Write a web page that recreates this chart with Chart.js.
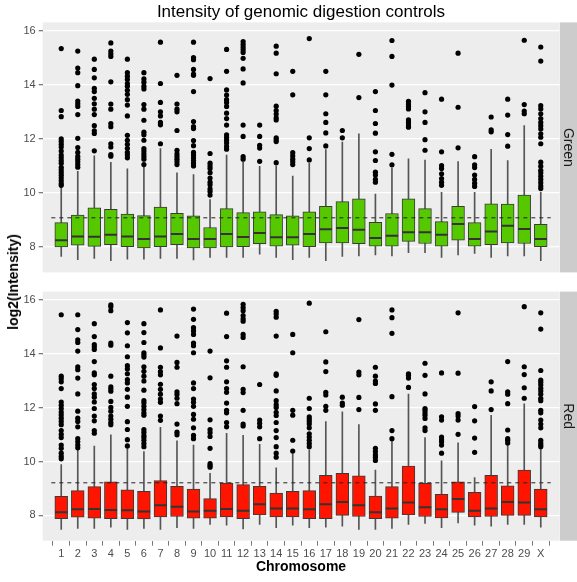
<!DOCTYPE html>
<html>
<head>
<meta charset="utf-8">
<title>Intensity of genomic digestion controls</title>
<script src="https://cdn.jsdelivr.net/npm/chart.js@4/dist/chart.umd.min.js"></script>
<style>
  html, body { margin: 0; padding: 0; background: #fff; }
  #wrap { position: relative; width: 577px; height: 582px; overflow: hidden; }
  #wrap canvas { position: absolute; left: 0; }
  #ytitle {
    position: absolute; left: 13px; top: 282px;
    transform: translate(-50%, -50%) rotate(-90deg);
    font: bold 14px 'Liberation Sans', Arial, sans-serif;
    color: #000; white-space: nowrap;
  }
</style>
</head>
<body>
<div id="wrap">
  <canvas id="greenPanel" width="577" height="282" style="top:0"></canvas>
  <canvas id="redPanel" width="577" height="300" style="top:282px"></canvas>
  <div id="ytitle">log2(Intensity)</div>
</div>
<script>
// ---- data ----------------------------------------------------------------
const chromosomes = ['1','2','3','4','5','6','7','8','9','10','11','12','13','14','15',
  '16','17','18','19','20','21','22','23','24','25','26','27','28','29','X'];
const yTicks = [8, 10, 12, 14, 16];
const yMin = 7.06, yMax = 16.31;

// Green channel: whisker ends, quartiles, medians, outliers
const greenLow = [7.65,7.53,7.58,7.49,7.55,7.55,7.58,7.58,7.52,7.61,7.61,7.61,7.73,7.61,7.53,
  7.61,7.49,7.65,7.67,7.71,7.67,7.79,7.79,7.61,7.71,7.76,7.61,7.67,7.67,7.49];
const greenQ1 = [8.00,8.07,8.02,8.09,8.01,7.97,8.01,8.09,7.97,7.97,8.00,8.01,8.12,8.03,8.07,
  8.01,8.15,8.15,8.12,8.03,8.03,8.21,8.13,8.03,8.25,8.03,8.09,8.15,8.13,8.01];
const greenMedian = [8.25,8.39,8.38,8.45,8.39,8.30,8.39,8.48,8.30,8.30,8.48,8.37,8.52,8.36,8.36,
  8.48,8.66,8.70,8.64,8.33,8.42,8.55,8.55,8.45,8.85,8.30,8.57,8.79,8.67,8.30];
const greenQ3 = [8.90,9.18,9.45,9.39,9.22,9.16,9.48,9.25,9.15,8.72,9.42,9.27,9.30,9.20,9.15,
  9.30,9.50,9.68,9.78,8.91,9.24,9.78,9.42,8.94,9.50,8.90,9.60,9.59,9.92,8.84];
const greenHigh = [10.22,10.80,11.37,11.13,10.89,11.02,11.64,10.74,10.68,9.75,11.40,11.13,10.98,11.00,10.62,
  11.10,11.60,11.88,12.19,9.96,10.92,11.26,11.22,10.02,11.16,10.02,11.61,11.20,12.49,10.02];
const greenOutliers = [
  [15.34,13.05,12.82,12.00,11.90,11.80,11.70,11.55,11.40,11.30,11.20,11.10,10.95,10.85,10.75,10.65,10.55,10.45,10.35,10.28],
  [15.25,14.62,14.45,13.97,13.40,13.30,13.20,12.90,12.02,11.68,11.50,11.35,11.25,11.15,11.05,10.95],
  [14.95,14.57,14.26,13.87,13.75,13.50,13.30,13.10,12.90,12.49,12.30,12.20,11.56],
  [15.55,15.25,15.15,15.05,14.11,13.29,13.10,12.57,12.45,11.82,11.70,11.42,11.36],
  [14.95,14.45,14.32,14.20,14.05,13.95,13.80,13.65,13.45,13.25,12.85,12.13,11.95,11.80,11.65,11.50,11.40,11.30],
  [14.45,14.22,14.10,13.95,13.85,13.27,13.10,12.69,12.25,12.15,11.95,11.64,11.55,11.45,11.35,11.25,11.05],
  [15.58,14.05,13.35,13.00,12.85,12.61,12.52,11.82],
  [14.35,13.29,13.10,13.00,12.31,11.58,11.45,11.35,11.25,11.15,11.05],
  [15.58,15.01,14.93,14.57,14.40,14.35,13.75,12.64,12.45,12.38,11.94,11.75,11.50,11.40,11.30,11.20,11.10,11.00],
  [14.23,11.46,11.10,11.00,10.90,10.75,10.55,10.40,10.30,10.15,10.05,9.92],
  [15.31,14.50,13.81,13.62,13.45,13.35,13.20,12.95,12.75,12.51,12.15,12.05,11.95,11.85,11.72,11.62],
  [15.60,15.50,15.40,15.30,15.20,14.98,14.59,14.07,12.51,12.09,11.34,11.25],
  [12.51,12.09,11.76,11.66,11.17],
  [15.43,15.17,14.41,13.21,13.05,12.92,12.78,12.70,12.04,11.97,11.90,11.12],
  [14.50,13.63,11.49,11.37,11.25,11.15,11.05],
  [15.71,12.04,11.64,11.22],
  [14.50,13.63,12.93,12.61,12.22,11.74],
  [12.31,12.04],
  [15.13,13.53],
  [13.75,13.05,12.57,12.21,11.52,11.20,10.77,10.66,10.50,10.40],
  [15.64,15.05,13.99,11.43,11.04],
  [13.39,13.29,13.20,13.11,12.70,12.61,12.51,12.43],
  [13.71,13.00,12.61,11.97,11.58],
  [13.47,11.52,11.01,10.90,10.71,10.53,10.40,10.28],
  [15.17,13.17,11.67],
  [11.34,11.04,10.94,10.66,10.50,10.36,10.24],
  [12.81,12.33,12.26],
  [13.47,12.88,12.16,11.73],
  [15.65,13.27,13.03,12.93],
  [15.40,14.88,13.23,13.11,12.93,12.75,12.61,12.49,12.37,12.19,12.06,11.82,11.14,10.99,10.84,10.74,10.62,10.50,10.38,10.26,10.16]
];
const greenReference = 9.08;

// Red channel
const redLow = [7.48,7.52,7.52,7.56,7.48,7.52,7.48,7.54,7.52,7.66,7.64,7.50,7.66,7.54,7.64,
  7.54,7.56,7.60,7.48,7.48,7.52,7.66,7.70,7.54,7.72,7.64,7.60,7.66,7.66,7.56];
const redQ1 = [7.88,7.93,7.90,7.88,7.88,7.87,7.94,7.96,7.90,7.90,7.94,7.88,8.02,7.94,7.94,
  7.88,7.88,8.00,7.96,7.88,7.90,8.02,7.96,7.91,8.11,7.94,7.96,8.00,8.00,7.94];
const redMedian = [8.12,8.23,8.24,8.20,8.19,8.14,8.38,8.32,8.14,8.17,8.24,8.17,8.41,8.26,8.26,
  8.23,8.41,8.50,8.38,8.12,8.26,8.48,8.30,8.23,8.61,8.17,8.26,8.50,8.48,8.23];
const redQ3 = [8.71,8.92,9.07,9.25,8.95,8.89,9.29,9.08,8.98,8.62,9.20,9.14,9.08,8.83,8.89,
  8.92,9.49,9.56,9.47,8.72,9.07,9.83,9.19,8.78,9.25,8.86,9.49,9.10,9.68,8.98];
const redHigh = [9.89,10.43,10.57,10.99,10.49,10.37,11.27,10.77,10.61,9.56,11.05,10.97,10.64,9.77,10.30,
  10.43,11.48,11.85,11.37,9.68,10.75,12.50,10.89,10.03,10.69,9.40,11.72,10.64,12.14,10.57];
const redOutliers = [
  [15.45,13.17,13.07,12.96,12.71,12.21,12.09,11.97,11.84,11.73,11.61,11.49,11.37,11.15,11.01,10.89,10.61,10.49,10.31,10.19,10.10],
  [15.45,14.90,14.52,14.42,14.10,13.52,13.41,13.10,12.51,11.87,11.61,11.49,11.29,10.85,10.73,10.61,10.51],
  [15.12,14.64,14.34,14.25,14.16,13.71,13.29,13.22,12.86,12.71,12.51,12.39,12.21,11.97,11.69,11.51,11.15,11.05],
  [15.82,15.75,15.60,14.40,14.32,13.17,12.77,12.69,12.61,12.23,12.01,11.87,11.69,11.57,11.45,11.37],
  [15.16,14.78,14.30,13.89,13.56,13.44,13.26,13.04,12.92,12.68,12.39,12.05,11.48,11.19,10.81,10.58],
  [15.12,14.79,14.42,14.04,13.96,13.88,13.52,13.35,13.17,12.99,12.65,12.26,12.17,12.05,11.93,11.81,11.72,11.19,11.09,10.97,10.89,10.79,10.67,10.55],
  [15.63,14.22,13.50,13.34,13.22,12.87,12.68,12.50,12.32,12.20,11.69,11.53],
  [14.66,13.68,13.50,12.59,12.49,12.35,12.15,11.39,11.09,10.99],
  [15.66,15.28,14.97,14.85,14.72,14.40,14.30,14.04,12.92,12.71,12.32,12.20,12.05,11.75,11.57,11.25,10.97,10.85],
  [14.10,13.11,11.55,11.19,11.07,10.93,10.49,9.92,9.85,9.79],
  [15.51,14.64,13.74,13.50,12.96,12.71,12.57,12.17,11.90,11.81,11.45,11.29],
  [15.84,15.72,15.60,15.42,15.30,15.21,14.72,14.61,13.52,12.68,12.56,11.90,11.39,11.32],
  [12.86,11.54,11.42,11.29,10.85],
  [15.58,15.48,15.36,14.66,13.26,13.20,12.62,12.26,12.11,12.01,11.83,11.71,11.45,11.15,10.89,10.55,10.31,10.16],
  [14.72,14.04,11.90,11.72,10.79,10.39],
  [15.88,12.35,11.97,11.66,11.58,11.49,11.39,11.25,11.03,10.91,10.79,10.67,10.55],
  [14.82,13.70,13.34,12.57,12.47,12.05,11.90],
  [12.39,12.17,12.09],
  [15.27,13.32,13.22,12.38,11.93],
  [13.50,13.17,12.99,12.90,12.14,11.90,10.49,10.37,10.25,10.16,10.04],
  [15.63,15.34,14.76,12.41,11.15,10.85],
  [13.26,13.20,13.10,12.75],
  [13.65,13.20,12.51,11.97,11.90,11.81,11.72,11.60,11.25,11.15],
  [13.29,11.66,11.54,10.91,10.81,10.73,10.61,10.31],
  [15.52,13.28,11.78,11.69,11.54,11.01],
  [12.04,11.51,10.87,10.34],
  [12.96,12.62,11.93],
  [13.71,12.59,12.50,12.15,11.17,10.85,10.79,10.69],
  [15.75,13.52,13.23,12.74,12.35],
  [15.52,14.92,13.38,13.02,12.93,12.84,12.72,12.62,12.50,12.35,12.26,11.90,11.81,11.54,11.39,11.25,10.79,10.69,10.61,10.55]
];
const redReference = 9.21;

// ---- drawing ---------------------------------------------------------------
const FONT = "'Liberation Sans', Arial, Helvetica, sans-serif";
const xMin = 0.4, xMax = chromosomes.length + 0.6;   // discrete-axis expansion

// Grey panel behind the plot and the facet strip on the right
const panelPlugin = {
  id: 'panel',
  beforeDraw(chart, args, opts) {
    const {ctx, chartArea: a} = chart;
    ctx.save();
    ctx.fillStyle = '#EDEDED';
    ctx.fillRect(a.left, a.top, a.right - a.left, a.bottom - a.top);
    ctx.fillStyle = '#CCCCCC';
    ctx.fillRect(a.right + 0.5, a.top, chart.width - a.right, a.bottom - a.top);
    ctx.translate(a.right + 8.5, (a.top + a.bottom) / 2);
    ctx.rotate(Math.PI / 2);
    ctx.fillStyle = '#1A1A1A';
    ctx.font = '14px ' + FONT;
    ctx.textAlign = 'center';
    ctx.textBaseline = 'middle';
    ctx.fillText(opts.label, 0, 0);
    ctx.restore();
  }
};

function buildPanel(canvas, cfg) {
  const pos = chromosomes.map((c, i) => i + 1);
  const whiskers = pos.map((x, i) => ({x, y: [cfg.low[i], cfg.high[i]]}));
  const boxes = pos.map((x, i) => ({x, y: [cfg.q1[i], cfg.q3[i]]}));
  const medians = pos.map((x, i) => ({x, y: cfg.median[i]}));
  const outliers = cfg.outliers.flatMap((vals, i) => vals.map(v => ({x: i + 1, y: v})));
  const refLine = [{x: xMin, y: cfg.reference}, {x: xMax, y: cfg.reference}];

  return new Chart(canvas, {
    type: 'bar',
    data: {
      datasets: [
        { type: 'bar', data: whiskers, backgroundColor: '#555555', borderWidth: 0,
          barThickness: 1, grouped: false, order: 5 },
        { type: 'bar', data: boxes, backgroundColor: cfg.fill, borderColor: '#3A3A3A',
          borderWidth: 1, borderSkipped: false, barThickness: 12.8, grouped: false, order: 4 },
        { type: 'line', data: medians, showLine: false, pointStyle: 'line', pointRadius: 6.2,
          pointBorderWidth: 2, pointBorderColor: '#333333', order: 3 },
        { type: 'line', data: refLine, borderColor: '#222222', borderWidth: 1,
          borderDash: [4, 4], pointRadius: 0, order: 2 },
        { type: 'line', data: outliers, showLine: false, pointStyle: 'circle', pointRadius: 2.6,
          pointBackgroundColor: '#000000', pointBorderWidth: 0, order: 1 }
      ]
    },
    options: {
      responsive: false,
      animation: false,
      events: [],
      layout: { padding: cfg.padding },
      plugins: {
        legend: { display: false },
        tooltip: { enabled: false },
        title: cfg.title ? {
          display: true, text: cfg.title, fullSize: false, color: '#000',
          font: { family: FONT, size: 17, weight: 'normal' },
          padding: { top: 2, bottom: 0 }
        } : { display: false },
        panel: { label: cfg.strip }
      },
      scales: {
        x: {
          type: 'linear', min: xMin, max: xMax,
          display: cfg.showX,
          afterBuildTicks: s => { s.ticks = pos.map(v => ({value: v})); },
          afterFit: s => { if (cfg.showX) s.height = 41.3; },
          ticks: {
            autoSkip: false, maxRotation: 0, padding: 2,
            color: '#4D4D4D', font: { family: FONT, size: 11 },
            callback: v => chromosomes[v - 1]
          },
          grid: { drawOnChartArea: false, drawTicks: true, tickLength: 5, tickColor: '#7A7A7A' },
          border: { display: false },
          title: {
            display: true, text: 'Chromosome', color: '#000',
            font: { family: FONT, size: 14, weight: 'bold' },
            padding: { top: 0, bottom: 6 }
          }
        },
        y: {
          type: 'linear', min: yMin, max: yMax,
          afterBuildTicks: s => { s.ticks = yTicks.map(v => ({value: v})); },
          afterFit: s => { s.width = 42.7; },
          ticks: { color: '#4D4D4D', font: { family: FONT, size: 11 }, padding: 3 },
          grid: { color: '#FFFFFF', lineWidth: 1.3, drawTicks: true, tickLength: 4, tickColor: '#7A7A7A' },
          border: { display: false }
        }
      }
    },
    plugins: [panelPlugin]
  });
}

buildPanel(document.getElementById('greenPanel'), {
  low: greenLow, q1: greenQ1, median: greenMedian, q3: greenQ3, high: greenHigh,
  outliers: greenOutliers, reference: greenReference, fill: '#55C800', strip: 'Green',
  title: 'Intensity of genomic digestion controls', showX: false,
  padding: { top: 0, right: 17.7, bottom: 2.7, left: 0 }
});

buildPanel(document.getElementById('redPanel'), {
  low: redLow, q1: redQ1, median: redMedian, q3: redQ3, high: redHigh,
  outliers: redOutliers, reference: redReference, fill: '#FF1400', strip: 'Red',
  title: null, showX: true,
  padding: { top: 1.3, right: 17.7, bottom: 0, left: 0 }
});
</script>
</body>
</html>
